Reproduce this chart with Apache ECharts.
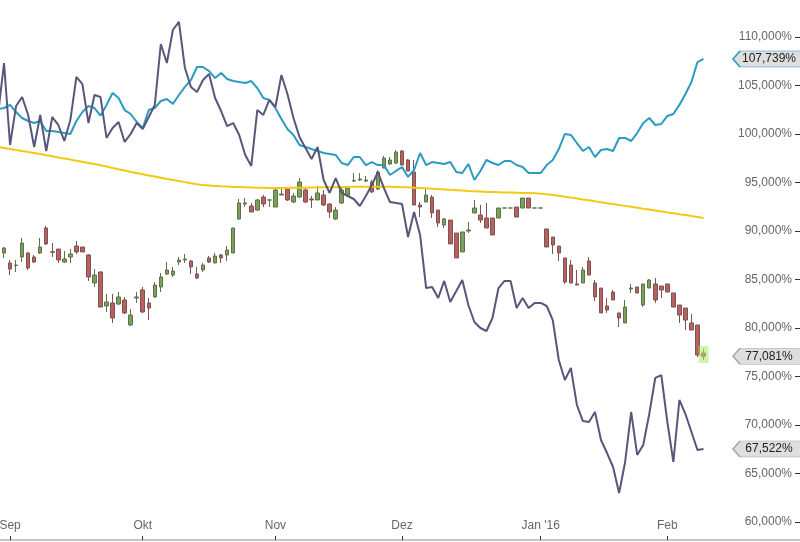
<!DOCTYPE html>
<html>
<head>
<meta charset="utf-8">
<script src="https://cdn.jsdelivr.net/npm/echarts@6/dist/echarts.min.js"></script>
<style>
html,body{margin:0;padding:0;background:#fff;}
#chart{width:800px;height:542px;}
</style>
</head>
<body>
<div id="chart"></div>
<script>
// Weekday categories (trading calendar) from 28 Aug 2015 to 2 Mar 2016
const categories = (function () {
  const out = [];
  const d = new Date(Date.UTC(2015, 7, 28));
  const end = Date.UTC(2016, 2, 2);
  while (d.getTime() <= end) {
    const w = d.getUTCDay();
    if (w !== 0 && w !== 6) out.push(d.toISOString().slice(0, 10));
    d.setUTCDate(d.getUTCDate() + 1);
  }
  return out;
})();

// Month tick labels
const monthTicks = {
  '2015-09-01': 'Sep',
  '2015-10-01': 'Okt',
  '2015-11-02': 'Nov',
  '2015-12-01': 'Dez',
  '2016-01-01': "Jan '16",
  '2016-02-01': 'Feb'
};

// Blue line
const blueLine = [102.58, 102.68, 103.00, 102.27, 101.65, 101.34, 101.13, 101.34, 100.31, 100.31,
  100.21, 100.10, 100.00, 101.34, 102.27, 102.89, 102.68, 101.90, 103.00, 104.23,
  103.71, 102.47, 102.06, 101.24, 100.62, 102.47, 102.68, 103.40, 103.61, 103.09,
  104.02, 104.85, 105.57, 106.91, 106.91, 106.49, 105.77, 106.29, 105.67, 105.46,
  105.36, 105.26, 105.46, 104.74, 103.71, 103.51, 102.68, 101.55, 100.52, 99.90,
  98.87, 98.66, 98.45, 98.25, 98.04, 97.94, 97.84, 97.01, 96.80, 97.63,
  97.63, 96.80, 97.11, 96.80, 96.80, 95.77, 96.19, 96.60, 95.57, 96.29,
  98.04, 96.80, 97.11, 97.01, 96.91, 97.11, 96.08, 95.98, 96.91, 95.26,
  96.19, 97.32, 97.01, 96.80, 97.22, 97.22, 96.80, 96.60, 95.98, 95.98,
  95.98, 96.80, 97.32, 98.45, 100.00, 99.90, 99.07, 98.25, 98.66, 97.63,
  98.35, 98.45, 98.25, 99.59, 99.59, 99.28, 100.10, 101.13, 101.65, 100.93,
  101.03, 101.86, 102.06, 103.00, 104.12, 105.36, 107.42, 107.739];

// Dark line
const darkLine = [101.96, 107.32, 98.87, 102.89, 103.81, 101.96, 98.66, 101.96, 98.25, 101.75,
  100.93, 99.28, 101.44, 105.88, 105.15, 101.13, 104.02, 103.81, 99.59, 100.62,
  101.24, 99.18, 100.00, 101.13, 100.52, 101.75, 102.99, 109.28, 107.32, 110.72,
  111.55, 106.80, 104.85, 104.33, 105.57, 106.19, 103.71, 102.37, 100.82, 101.13,
  99.90, 97.84, 96.70, 102.47, 101.96, 103.51, 102.78, 106.08, 104.12, 101.65,
  99.69, 98.56, 97.42, 98.66, 95.26, 93.92, 95.46, 93.92, 93.61, 93.30,
  92.58, 93.61, 94.74, 96.08, 94.43, 92.99, 92.89, 92.78, 89.38, 91.96,
  89.59, 84.12, 84.23, 83.09, 84.85, 82.68, 83.81, 84.95, 82.37, 80.62,
  80.00, 79.69, 81.03, 84.12, 84.85, 84.85, 82.06, 83.09, 82.06, 82.58,
  82.58, 82.27, 80.82, 76.70, 74.64, 75.88, 72.06, 70.41, 70.31, 71.34,
  68.45, 67.11, 65.67, 62.99, 66.19, 71.34, 66.91, 67.94, 71.13, 74.85,
  75.15, 70.31, 66.19, 72.58, 71.13, 69.28, 67.42, 67.522];

// Yellow moving average
const avgLine = [98.66, 98.56, 98.46, 98.36, 98.25, 98.15, 98.04, 97.93, 97.81, 97.70,
  97.58, 97.47, 97.36, 97.24, 97.13, 97.02, 96.91, 96.77, 96.64, 96.50,
  96.36, 96.23, 96.09, 95.97, 95.85, 95.73, 95.61, 95.49, 95.37, 95.26,
  95.15, 95.04, 94.92, 94.81, 94.73, 94.69, 94.65, 94.61, 94.58, 94.54,
  94.53, 94.51, 94.49, 94.47, 94.45, 94.43, 94.43, 94.44, 94.44, 94.45,
  94.46, 94.47, 94.48, 94.49, 94.50, 94.51, 94.52, 94.53, 94.54, 94.55,
  94.55, 94.56, 94.56, 94.56, 94.56, 94.55, 94.54, 94.52, 94.50, 94.47,
  94.44, 94.40, 94.36, 94.32, 94.28, 94.24, 94.21, 94.17, 94.13, 94.10,
  94.06, 94.02, 94.01, 94.00, 93.98, 93.97, 93.95, 93.93, 93.91, 93.88,
  93.84, 93.78, 93.72, 93.63, 93.54, 93.44, 93.35, 93.25, 93.16, 93.06,
  92.97, 92.87, 92.78, 92.68, 92.59, 92.49, 92.40, 92.30, 92.21, 92.11,
  92.02, 91.92, 91.83, 91.73, 91.64, 91.54, 91.45, 91.35];

// Candles: [open, close, low, high]
const candles = ['-',
  [87.73, 88.25, 87.22, 88.35], [86.70, 86.08, 85.46, 87.01], [86.44, 86.49, 85.77, 87.01],
  [87.32, 88.76, 86.80, 89.28], [87.73, 86.19, 85.98, 87.84], [87.32, 86.80, 86.70, 87.53],
  [87.73, 88.35, 87.63, 89.28], [90.31, 88.66, 88.56, 90.51], [87.86, 87.81, 87.32, 88.76],
  [88.14, 87.01, 86.70, 88.14], [86.80, 87.11, 86.70, 87.94], [87.32, 87.63, 86.70, 88.14],
  [88.45, 87.84, 87.63, 88.97], [88.35, 87.84, 87.84, 88.35], [87.53, 85.26, 84.85, 87.63],
  [84.64, 85.46, 84.23, 86.08], [85.77, 82.16, 82.16, 85.87], [82.27, 82.68, 81.65, 83.51],
  [82.58, 81.03, 80.52, 83.51], [82.47, 83.20, 82.37, 83.71], [82.89, 81.55, 81.44, 83.20],
  [80.31, 81.34, 80.21, 81.96], [83.09, 83.20, 82.58, 83.71], [83.92, 81.65, 81.55, 84.23],
  [82.58, 82.06, 80.82, 83.09], [83.20, 84.43, 83.09, 84.74], [84.23, 85.26, 83.71, 85.67],
  [85.57, 85.98, 85.46, 86.80], [85.46, 85.87, 85.26, 86.29], [86.80, 87.01, 86.49, 87.32],
  [87.01, 87.11, 86.70, 87.63], [86.91, 86.29, 85.57, 87.01], [85.57, 85.15, 85.05, 86.29],
  [85.98, 86.49, 85.77, 86.70], [87.22, 86.80, 86.70, 87.42], [86.70, 87.42, 86.70, 87.73],
  [87.53, 87.22, 86.70, 87.63], [87.53, 88.04, 86.91, 88.45], [87.73, 90.31, 87.73, 90.31],
  [91.24, 92.89, 91.13, 93.30], [92.78, 92.89, 92.47, 93.40], [92.58, 91.96, 91.96, 92.89],
  [92.16, 93.20, 92.06, 93.30], [93.50, 92.78, 92.47, 93.71], [93.20, 93.20, 92.47, 93.22],
  [92.47, 94.23, 92.47, 94.43], [93.71, 93.81, 93.71, 94.33], [94.33, 93.20, 93.09, 94.54],
  [92.99, 93.61, 92.89, 93.92], [93.50, 95.05, 93.40, 95.46], [94.23, 92.99, 92.89, 94.54],
  [93.30, 93.20, 92.37, 93.61], [93.20, 93.92, 93.20, 94.64], [93.71, 92.68, 92.58, 94.23],
  [92.78, 91.96, 91.34, 92.89], [91.24, 92.16, 91.13, 92.47], [92.89, 94.23, 92.78, 94.43],
  [93.71, 94.43, 93.61, 94.64], [95.15, 95.21, 95.05, 95.98], [95.26, 95.36, 95.15, 95.98],
  [95.15, 95.26, 95.05, 95.67], [95.05, 94.02, 93.92, 95.26], [94.33, 96.08, 94.23, 96.29],
  [96.49, 97.52, 96.49, 97.73], [96.91, 97.32, 96.80, 97.63], [97.01, 98.14, 96.91, 98.35],
  [98.25, 96.80, 96.80, 98.35], [97.32, 96.18, 96.18, 97.42], [96.08, 92.68, 92.68, 97.32],
  [92.68, 92.47, 91.44, 92.99], [92.99, 93.71, 92.99, 94.43], [93.50, 91.86, 91.34, 93.71],
  [92.16, 90.82, 90.41, 92.16], [90.62, 91.24, 90.31, 91.34], [91.13, 88.66, 88.66, 91.13],
  [89.79, 87.22, 87.22, 89.79], [87.84, 89.90, 87.84, 89.90], [90.00, 90.10, 89.79, 90.93],
  [91.86, 92.37, 91.86, 93.20], [91.65, 91.13, 90.82, 92.68], [91.34, 90.31, 90.31, 92.89],
  [91.34, 89.59, 89.59, 91.34], [91.34, 92.37, 91.34, 92.37], [92.37, 92.37, 92.37, 92.37],
  [92.37, 92.37, 92.37, 92.37], [92.47, 91.44, 91.44, 92.47], [92.37, 93.40, 92.37, 93.40],
  [93.40, 92.37, 92.37, 93.40], [92.37, 92.37, 92.37, 92.37], [92.37, 92.37, 92.37, 92.37],
  [90.21, 88.35, 88.35, 90.21], [89.38, 88.56, 87.63, 89.38], [88.45, 87.73, 86.91, 88.45],
  [87.22, 84.74, 84.54, 87.22], [86.49, 84.64, 84.64, 87.01], [84.54, 84.43, 84.43, 85.98],
  [84.64, 85.98, 84.64, 86.29], [86.91, 85.46, 85.46, 87.32], [84.64, 83.20, 82.78, 84.95],
  [84.12, 81.55, 81.55, 84.12], [82.27, 81.86, 81.55, 83.09], [83.71, 82.89, 82.89, 83.92],
  [81.55, 81.03, 80.10, 81.55], [80.52, 82.16, 80.52, 82.89], [84.02, 84.12, 83.61, 84.54],
  [84.23, 83.61, 83.61, 84.23], [82.37, 84.54, 82.16, 84.54], [84.12, 84.95, 84.12, 85.05],
  [84.54, 82.89, 82.58, 85.15], [84.33, 83.92, 83.09, 84.33], [84.54, 83.71, 83.71, 84.54],
  [83.61, 82.16, 82.16, 83.61], [82.37, 81.34, 80.52, 82.37], [82.06, 80.82, 79.79, 82.06],
  [80.52, 79.79, 79.79, 81.44], [80.31, 77.22, 77.01, 80.31], [77.42, 77.081, 76.70, 77.84]];

const fmtPct = v => v.toFixed(3).replace('.', ',') + '%';
const lastCat = categories[categories.length - 1];
const lastIdx = blueLine.length - 1;
const lastClose = candles[lastIdx][1];

const BLUE = '#2b9bc1', DARK = '#58567a', YELLOW = '#f3c912';
const tagPath = 'path://M0,8L7,0L70,0L70,16L7,16Z';
function endTag(value, border) {
  return {
    coord: [lastCat, value],
    value: value,
    symbol: tagPath,
    symbolSize: [70, 16],
    symbolOffset: [-32, 0],
    itemStyle: { color: '#dedede', borderColor: border, borderWidth: 1 },
    label: {
      show: true, position: 'inside', offset: [1, 0],
      formatter: () => fmtPct(value),
      color: '#222', fontSize: 12, fontFamily: 'Liberation Sans, Arial, sans-serif'
    }
  };
}

const chart = echarts.init(document.getElementById('chart'), null, { renderer: 'canvas' });
chart.setOption({
  animation: false,
  backgroundColor: '#ffffff',
  grid: { left: -2, right: 0, top: 37, bottom: 20, containLabel: false, outerBoundsMode: 'none' },
  xAxis: {
    type: 'category',
    data: categories,
    boundaryGap: false,
    offset: 18,
    axisLine: { show: true, lineStyle: { color: '#c8c5be', width: 2 } },
    axisTick: {
      show: true, inside: true, length: 4,
      interval: (i, v) => monthTicks[v] !== undefined,
      lineStyle: { color: '#333', width: 1 }
    },
    axisLabel: {
      show: true, inside: true, margin: 8,
      interval: (i, v) => monthTicks[v] !== undefined,
      formatter: v => monthTicks[v] || '',
      color: '#666', fontSize: 12, fontFamily: 'Liberation Sans, Arial, sans-serif'
    },
    splitLine: { show: false }
  },
  yAxis: {
    type: 'value',
    position: 'right',
    min: 60, max: 110, interval: 5,
    axisLine: { show: false },
    axisTick: { show: true, inside: true, length: 5, lineStyle: { color: '#333' } },
    axisLabel: {
      inside: true, margin: 8, showMinLabel: true, showMaxLabel: true,
      formatter: v => fmtPct(v),
      color: '#666', fontSize: 12, fontFamily: 'Liberation Sans, Arial, sans-serif'
    },
    splitLine: { show: false }
  },
  series: [
    {
      name: 'Kurs',
      type: 'candlestick',
      data: candles,
      barWidth: 4,
      clip: false,
      itemStyle: {
        color: '#7aa05a', color0: '#b8625f',
        borderColor: '#5e7149', borderColor0: '#7e5252', borderWidth: 1
      },
      markPoint: {
        silent: true,
        data: [
          {
            coord: [categories[lastIdx], (candles[lastIdx][2] + candles[lastIdx][3]) / 2],
            value: lastClose,
            symbol: 'rect', symbolSize: [10, 17],
            itemStyle: { color: 'rgba(175,232,110,0.55)' },
            label: { show: false }
          },
          endTag(lastClose, '#a8a8a8')
        ]
      }
    },
    {
      name: 'Durchschnitt',
      type: 'line',
      data: avgLine,
      showSymbol: false,
      clip: false,
      lineStyle: { color: YELLOW, width: 2 },
      itemStyle: { color: YELLOW }
    },
    {
      name: 'Blau',
      type: 'line',
      data: blueLine,
      showSymbol: false,
      clip: false,
      lineStyle: { color: BLUE, width: 2 },
      itemStyle: { color: BLUE },
      markPoint: { silent: true, data: [endTag(blueLine[lastIdx], BLUE)] }
    },
    {
      name: 'Dunkel',
      type: 'line',
      data: darkLine,
      showSymbol: false,
      clip: false,
      lineStyle: { color: DARK, width: 2 },
      itemStyle: { color: DARK },
      markPoint: { silent: true, data: [endTag(darkLine[lastIdx], '#a8a8a8')] }
    }
  ]
});
</script>
</body>
</html>
